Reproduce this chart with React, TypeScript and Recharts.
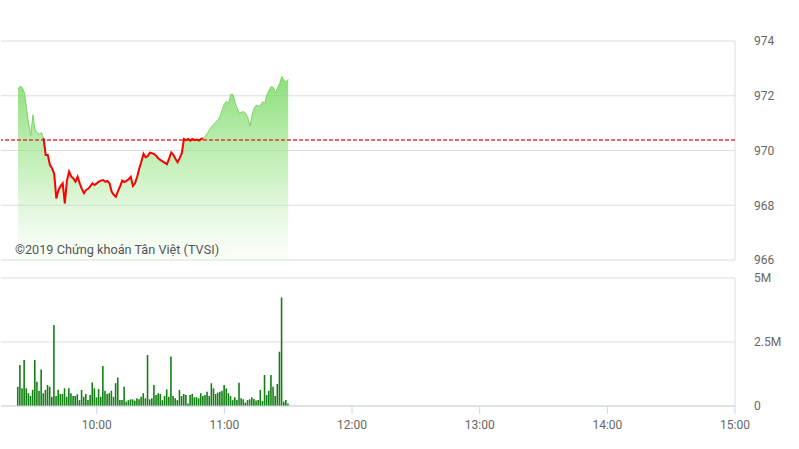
import React from 'react'
import {
  ComposedChart,
  Area,
  Line,
  Bar,
  XAxis,
  YAxis,
  CartesianGrid,
  ReferenceLine,
} from 'recharts'

// session: 9:15 -> 15:00, minutes since midnight
const DAY_START = 555
const DAY_END = 900
const FIRST_MINUTE = 563 // 9:23, first plotted point

const REF_PRICE = 970.38

const PRICE = [
  972.25, 972.35, 972.3, 972.1, 971.55, 970.95, 970.55, 971.3, 970.75, 970.65,
  970.6, 970.65, 970.45, 969.84, 969.84, 969.47, 969.35, 969.15, 968.25, 968.55,
  968.7, 968.8, 968.07, 968.9, 969.23, 969.05, 968.98, 968.86, 969.04, 968.8,
  968.6, 968.44, 968.56, 968.6, 968.7, 968.8, 968.74, 968.8, 968.86, 968.9,
  968.92, 968.86, 968.89, 968.8, 968.5, 968.38, 968.31, 968.52, 968.7, 968.9,
  968.85, 968.89, 968.95, 969.04, 968.7, 968.8, 969.04, 969.35, 969.6, 969.88,
  969.75, 969.8, 969.92, 969.9, 969.87, 969.8, 969.71, 969.65, 969.6, 969.55,
  969.5, 969.7, 969.93, 969.84, 969.7, 969.57, 969.72, 969.9, 970.42, 970.38,
  970.42, 970.36, 970.42, 970.38, 970.4, 970.36, 970.42, 970.44, 970.52, 970.63,
  970.75, 970.88, 970.95, 971.05, 971.12, 971.25, 971.5, 971.7, 971.8, 971.72,
  972.05, 972.05, 971.75, 971.55, 971.36, 971.4, 971.42, 971.36, 971.2, 970.88,
  971.3, 971.55, 971.66, 971.62, 971.65, 971.78, 971.72, 972.05, 972.2, 972.33,
  972.3, 972.1, 972.3, 972.45, 972.7, 972.55, 972.52, 972.6,
]

// stretch drawn in red (under the reference price)
const RED_FROM = 12
const RED_TO = 87

// volume per minute, millions of shares
const VOLUME_M = [
  0.75, 1.6, 0.69, 1.8, 0.69, 0.5, 0.39, 0.63, 1.8, 0.95,
  0.6, 1.43, 0.5, 0.63, 0.82, 0.75, 0.36, 3.16, 0.39, 0.63,
  0.47, 0.47, 0.69, 0.36, 0.69, 0.5, 0.39, 0.39, 0.46, 0.23,
  0.63, 0.36, 0.47, 0.23, 0.43, 0.92, 0.69, 0.34, 0.66, 0.36,
  1.56, 0.6, 0.47, 0.5, 0.6, 0.36, 0.89, 1.11, 0.23, 0.23,
  0.75, 0.17, 0.23, 0.26, 0.26, 0.21, 0.3, 0.26, 0.36, 0.5,
  0.3, 1.99, 0.26, 0.3, 0.82, 0.43, 0.5, 0.47, 0.23, 0.39,
  0.65, 0.36, 1.93, 0.39, 0.3, 0.23, 0.63, 0.39, 0.47, 0.43,
  0.1, 0.43, 0.47, 0.34, 0.34, 0.3, 0.5, 0.39, 0.43, 0.56,
  0.39, 0.89, 0.69, 0.47, 0.52, 0.56, 0.6, 0.82, 0.69, 0.5,
  0.39, 0.23, 0.34, 0.23, 0.91, 0.3, 0.26, 0.13, 0.23, 0.26,
  0.34, 0.27, 0.21, 0.23, 0.63, 0.2, 1.21, 0.43, 0.6, 1.21,
  0.75, 0.39, 0.86, 2.12, 4.24, 0.17, 0.23, 0.1,
]

const PRICE_TICKS = [966, 968, 970, 972, 974]
const VOLUME_TICKS = [0, 2.5, 5]
const TIME_TICKS = [600, 660, 720, 780, 840, 900]

const data = PRICE.map((p, i) => ({
  t: FIRST_MINUTE + i,
  price: p,
  below: i >= RED_FROM && i <= RED_TO ? p : null,
  vol: VOLUME_M[i],
}))

const fmtTime = (m: number) => `${Math.floor(m / 60)}:${String(m % 60).padStart(2, '0')}`
const fmtVol = (v: number) => (v === 0 ? '0' : `${v}M`)

const FONT = 'Roboto, "Noto Sans", sans-serif'
const tickStyle = { fontSize: 12, fill: '#666', fontFamily: FONT }
const GRID = '#dcdcdc'

export default function App() {
  return (
    <div style={{ position: 'absolute', left: 0, top: 0, width: 799, height: 449, background: '#fff' }}>
      <div style={{ position: 'absolute', left: 0, top: 0 }}>
        <ComposedChart width={799} height={270} data={data} margin={{ top: 41, right: 0, bottom: 10, left: 1 }}>
          <defs>
            <linearGradient id="priceFill" x1="0" y1="0" x2="0" y2="1">
              <stop offset="0%" stopColor="#78d862" stopOpacity={0.85} />
              <stop offset="55%" stopColor="#9be68a" stopOpacity={0.5} />
              <stop offset="100%" stopColor="#c8f2bd" stopOpacity={0.08} />
            </linearGradient>
          </defs>
          <CartesianGrid horizontal vertical verticalPoints={[735]} stroke={GRID} />
          <XAxis dataKey="t" type="number" domain={[DAY_START, DAY_END]} hide />
          <YAxis
            orientation="right"
            width={64}
            domain={[966, 974]}
            ticks={PRICE_TICKS}
            axisLine={false}
            tickLine={false}
            tickSize={0}
            tickMargin={19}
            tick={tickStyle}
          />
          <Area
            type="linear"
            dataKey="price"
            stroke="#79d465"
            strokeWidth={1}
            fill="url(#priceFill)"
            fillOpacity={1}
            dot={false}
            activeDot={false}
            isAnimationActive={false}
          />
          <ReferenceLine y={REF_PRICE} stroke="#e0363c" strokeWidth={1.5} strokeDasharray="4 2" />
          <Line
            type="linear"
            dataKey="below"
            stroke="#ff0000"
            strokeWidth={2}
            dot={false}
            activeDot={false}
            isAnimationActive={false}
          />
        </ComposedChart>
      </div>
      <div
        style={{
          position: 'absolute',
          left: 15,
          top: 242,
          fontFamily: FONT,
          fontSize: 12.7,
          color: '#555',
          whiteSpace: 'nowrap',
        }}
      >
        ©2019 Chứng khoán Tân Việt (TVSI)
      </div>
      <div style={{ position: 'absolute', left: 0, top: 270 }}>
        <ComposedChart width={799} height={179} data={data} margin={{ top: 8, right: 0, bottom: 0, left: 1 }}>
          <CartesianGrid horizontal vertical verticalPoints={[735]} stroke={GRID} />
          <XAxis
            dataKey="t"
            type="number"
            domain={[DAY_START, DAY_END]}
            ticks={TIME_TICKS}
            tickFormatter={fmtTime}
            height={43}
            stroke="#ccd6eb"
            tickSize={8}
            tickMargin={6}
            tick={tickStyle}
          />
          <YAxis
            orientation="right"
            width={64}
            domain={[0, 5]}
            ticks={VOLUME_TICKS}
            tickFormatter={fmtVol}
            axisLine={false}
            tickLine={false}
            tickSize={0}
            tickMargin={19}
            tick={tickStyle}
          />
          <Bar dataKey="vol" fill="#147f14" barSize={1.6} isAnimationActive={false} />
        </ComposedChart>
      </div>
    </div>
  )
}
